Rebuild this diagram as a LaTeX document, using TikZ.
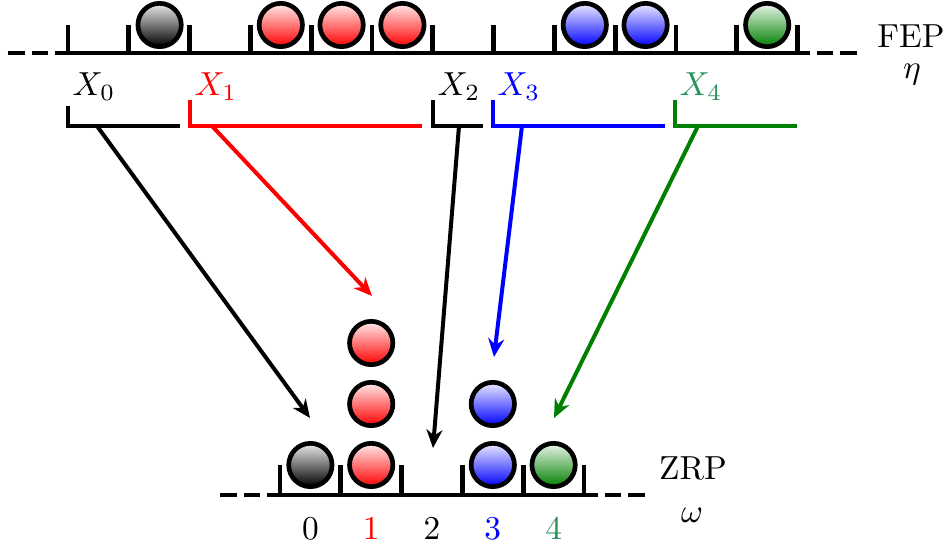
\documentclass[tikz,border=0pt]{standalone}
\usetikzlibrary{arrows.meta}
\definecolor{fgreen}{RGB}{0,128,0}
\definecolor{tgreen}{RGB}{40,145,90}
\newcommand\myball[3]{\path[ball, top color=#3!8!white, bottom color=#3] (#1,#2) circle (6.5pt);}
\begin{document}
\begin{tikzpicture}[x=0.3pt,y=-0.3pt,
  latt/.style={line width=1.4pt},
  ball/.style={draw=black,line width=1.4pt},
  brk/.style={line width=1.2pt},
  arr/.style={line width=1.2pt,-{Stealth[length=5.5pt,width=4.8pt]}},
  lbl/.style={inner sep=0pt, anchor=base west},
  num/.style={inner sep=0pt, anchor=base},
]
\useasboundingbox (0,0) rectangle (952,546);

% ---------- FEP lattice ----------
\draw[latt] (55,53) -- (810,53);
\foreach \k in {0,...,12} \draw[latt] ({68+60.8*\k},25) -- ({68+60.8*\k},53);
\draw[latt] (8,53) -- (25,53) (32,53) -- (48,53) (817,53) -- (833,53) (840,53) -- (857,53);

\myball{159.6}{25}{black}
\myball{280.8}{25}{red}
\myball{341.6}{25}{red}
\myball{402.4}{25}{red}
\myball{584.8}{25}{blue}
\myball{645.6}{25}{blue}
\myball{767.2}{25}{fgreen}

\node[num] (fep) at (911,47) {FEP};
\node[num] (eta) at (912,79) {$\eta$};

% ---------- labels and brackets ----------
\node[lbl] (x0) at (72,96) {$X_0$};
\node[lbl, text=red] (x1) at (194,96) {$X_1$};
\node[lbl] (x2) at (437,96) {$X_2$};
\node[lbl, text=blue] (x3) at (497,96) {$X_3$};
\node[lbl, text=tgreen] (x4) at (679,96) {$X_4$};

\draw[brk] (68,106) -- (68,126) -- (180,126);
\draw[brk, red] (190,100) -- (190,126) -- (422,126);
\draw[brk] (433,100) -- (433,126) -- (483,126);
\draw[brk, blue] (493,100) -- (493,126) -- (665,126);
\draw[brk, fgreen] (675,100) -- (675,126) -- (797,126);

\coordinate (s0) at (97,126);
\coordinate (s1) at (212,126);
\coordinate (s2) at (459,126);
\coordinate (s3) at (522,126);
\coordinate (s4) at (698,126);
\coordinate (e0) at (310,418);
\coordinate (e1) at (372,296);
\coordinate (e2) at (433,448);
\coordinate (e3) at (494,357);
\coordinate (e4) at (554,418);

\draw[arr] (s0) -- (e0);
\draw[arr, red] (s1) -- (e1);
\draw[arr] (s2) -- (e2);
\draw[arr, blue] (s3) -- (e3);
\draw[arr, fgreen] (s4) -- (e4);

% ---------- ZRP lattice ----------
\draw[latt] (267,495) -- (598,495);
\foreach \k in {0,...,5} \draw[latt] ({280+60.8*\k},465) -- ({280+60.8*\k},495);
\draw[latt] (220,495) -- (237,495) (244,495) -- (260,495) (605,495) -- (621,495) (628,495) -- (645,495);

\myball{310.4}{465}{black}
\myball{371.2}{465}{red}
\myball{371.2}{404}{red}
\myball{371.2}{343}{red}
\myball{492.8}{465}{blue}
\myball{492.8}{404}{blue}
\myball{553.6}{465}{fgreen}

\node[num] (n0) at (310.4,540) {0};
\node[num, text=red] (n1) at (371.2,540) {1};
\node[num] (n2) at (432,540) {2};
\node[num, text=blue] (n3) at (492.8,540) {3};
\node[num, text=tgreen] (n4) at (553.6,540) {4};

\node[num] (zrp) at (693,480) {ZRP};
\node[num] (om) at (692,522) {$\omega$};
\end{tikzpicture}
\end{document}
